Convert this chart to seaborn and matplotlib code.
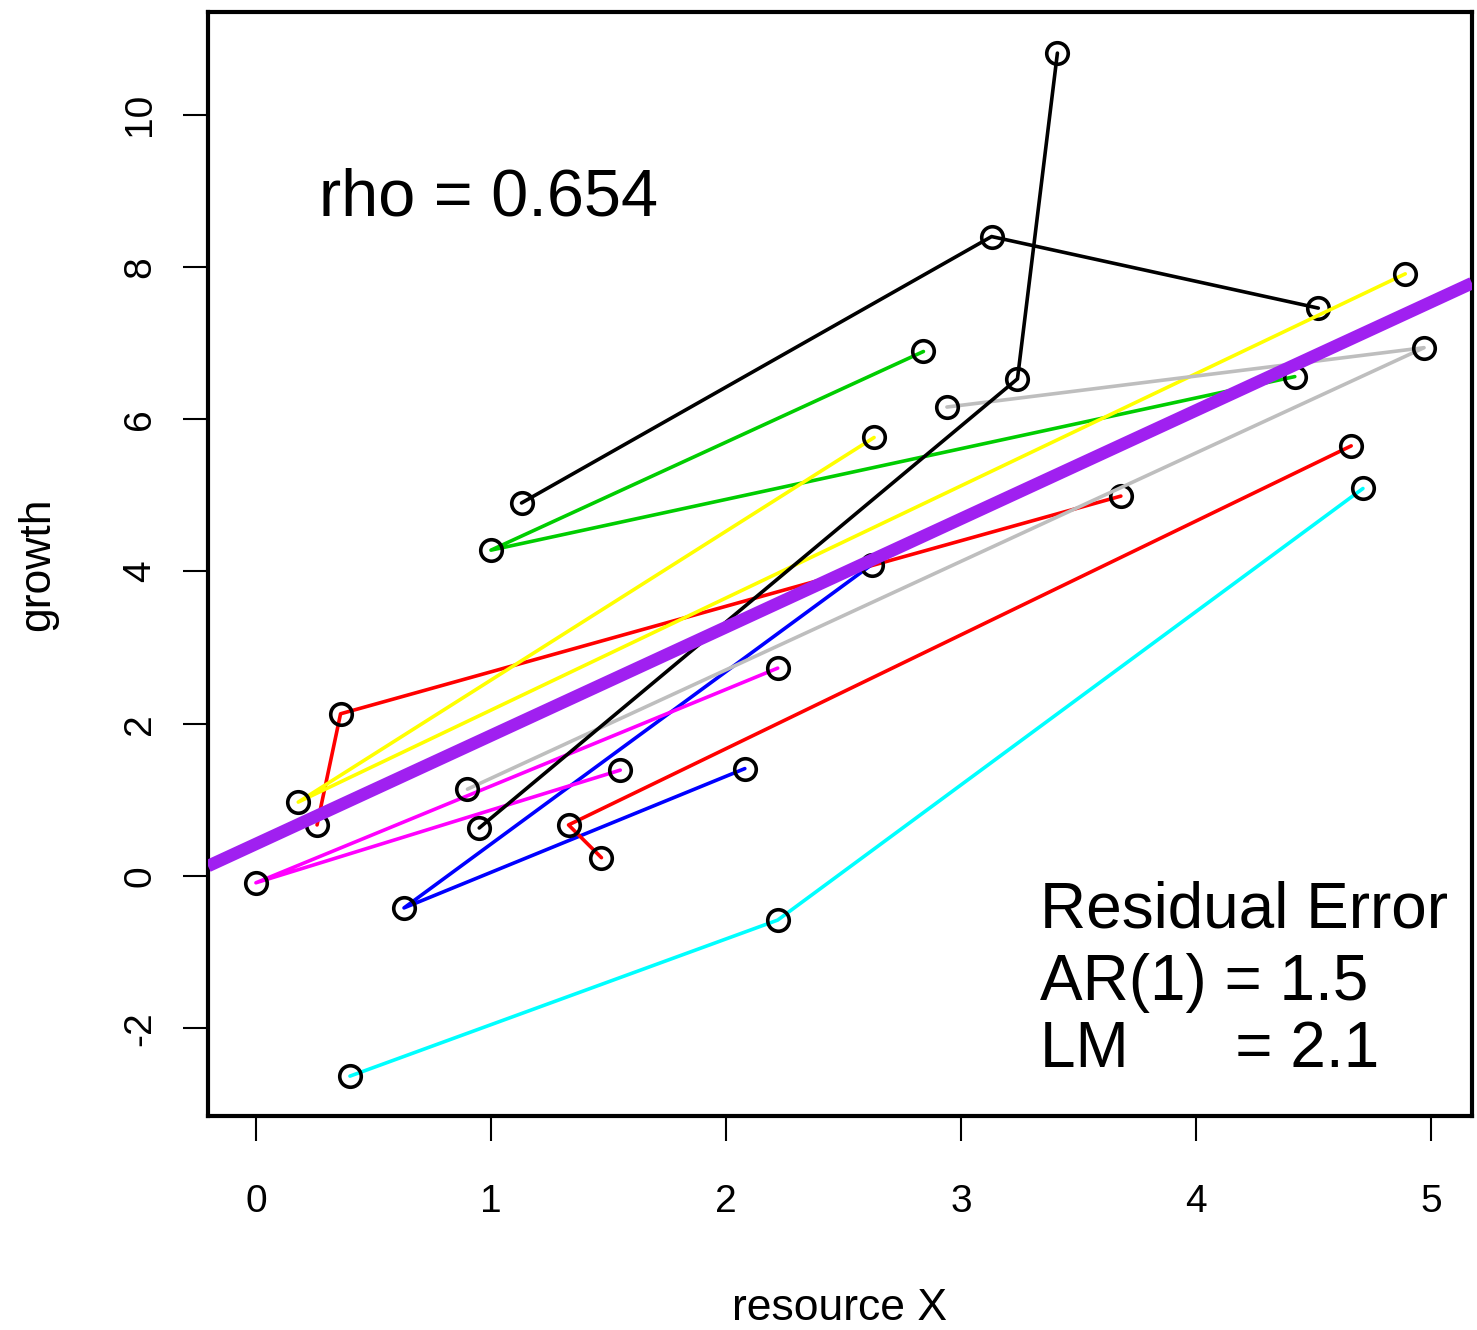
import seaborn as sns
import matplotlib.pyplot as plt
import pandas as pd

# each plot measured 3 times: resource X vs growth
plot_ids = ["p1", "p2", "p3", "p4", "p5", "p6", "p7", "p8", "p9", "p10"]
plot_colours = ["black", "red", "#00CD00", "blue", "cyan", "magenta", "yellow", "#BEBEBE", "black", "red"]

p1_x = [1.13, 3.13, 4.52]
p1_y = [4.90, 8.40, 7.46]
p2_x = [0.26, 0.36, 3.68]
p2_y = [0.67, 2.13, 4.99]
p3_x = [2.84, 1.00, 4.42]
p3_y = [6.89, 4.28, 6.56]
p4_x = [2.08, 0.63, 2.62]
p4_y = [1.41, -0.42, 4.09]
p5_x = [0.40, 2.22, 4.71]
p5_y = [-2.63, -0.58, 5.09]
p6_x = [1.55, 0.00, 2.22]
p6_y = [1.39, -0.09, 2.73]
p7_x = [2.63, 0.18, 4.89]
p7_y = [5.76, 0.97, 7.91]
p8_x = [0.90, 4.97, 2.94]
p8_y = [1.14, 6.94, 6.16]
p9_x = [0.95, 3.24, 3.41]
p9_y = [0.63, 6.53, 10.81]
p10_x = [1.47, 1.33, 4.66]
p10_y = [0.24, 0.67, 5.65]

xs = [p1_x, p2_x, p3_x, p4_x, p5_x, p6_x, p7_x, p8_x, p9_x, p10_x]
ys = [p1_y, p2_y, p3_y, p4_y, p5_y, p6_y, p7_y, p8_y, p9_y, p10_y]

# fitted line
fit_intercept = 0.42
fit_slope = 1.424

rho_text = "rho = 0.654"
err_lines = ["Residual Error", "AR(1) = 1.5", "LM      = 2.1"]

rows = []
for pid, x, y in zip(plot_ids, xs, ys):
    for i in range(len(x)):
        rows.append({"plot": pid, "step": i, "resource": x[i], "growth": y[i]})
df = pd.DataFrame(rows)

sns.set_style("white")
plt.rcParams["font.family"] = ["Liberation Sans", "DejaVu Sans"]
plt.rcParams["text.color"] = "black"
plt.rcParams["axes.labelcolor"] = "black"

fig = plt.figure(figsize=(14.77, 13.30), dpi=100)
ax = fig.add_axes([208 / 1477, 1 - 1116 / 1330, 1264 / 1477, 1104 / 1330])

sns.lineplot(data=df, x="resource", y="growth", hue="plot",
             palette=dict(zip(plot_ids, plot_colours)), sort=False,
             estimator=None, legend=False, lw=2.6, marker="o", ms=15.5,
             markerfacecolor="none", markeredgecolor="black",
             markeredgewidth=2.6, ax=ax)

ax.axline((0, fit_intercept), slope=fit_slope, color="#A020F0", lw=9,
          solid_capstyle="butt", zorder=5)

ax.set_xlim(-0.204, 5.174)
ax.set_ylim(-3.154, 11.35)
ax.set_xticks([0, 1, 2, 3, 4, 5])
ax.set_yticks([-2, 0, 2, 4, 6, 8, 10])
ax.set_yticklabels(["-2", "0", "2", "4", "6", "8", "10"], rotation=90, va="center")
ax.tick_params(axis="both", which="major", direction="out", length=18,
               width=1.5, labelsize=28, colors="black", bottom=True, left=True)
ax.tick_params(axis="x", pad=31)
ax.tick_params(axis="y", pad=18)

for sp in ax.spines.values():
    sp.set_linewidth(3)
    sp.set_color("black")

ax.set_xlabel("resource X", fontsize=32)
ax.set_ylabel("growth", fontsize=32)
ax.xaxis.set_label_coords(0.5, -0.156)
ax.yaxis.set_label_coords(-0.1187, 0.5)

ax.text(0.088, 0.816, rho_text, transform=ax.transAxes, fontsize=48, va="baseline")
for line, yb in zip(err_lines, [0.171, 0.105, 0.044]):
    ax.text(0.658, yb, line, transform=ax.transAxes, fontsize=46, va="baseline")

fig.savefig("out.png", dpi=100)
